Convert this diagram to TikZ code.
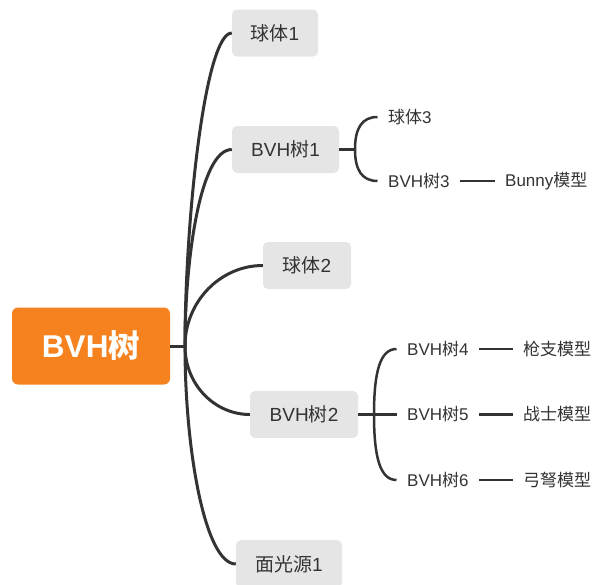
\documentclass[tikz,border=0pt]{standalone}
\usepackage{fontspec}
\setmainfont{Liberation Sans}
\newfontfamily\cjk{Noto Sans CJK SC}
\definecolor{orng}{RGB}{245,130,31}
\definecolor{boxg}{RGB}{229,229,229}
\definecolor{txt}{RGB}{51,51,51}
\definecolor{ln}{RGB}{51,51,51}
\begin{document}
\begin{tikzpicture}[x=1pt,y=-1pt,
  rootbox/.style={fill=orng, rounded corners=6pt, text=white, font=\fontsize{31.5}{31.5}\selectfont\bfseries, minimum width=158pt, minimum height=77pt, inner sep=0pt},
  box/.style={fill=boxg, rounded corners=5pt, text=txt, font=\fontsize{19}{19}\selectfont, minimum height=47pt, inner sep=0pt},
  leaf/.style={text=txt, font=\fontsize{17}{17}\selectfont, inner ysep=2pt, inner xsep=10.5pt, anchor=west},
  conn/.style={draw=ln, line width=3pt},
  sconn/.style={draw=ln, line width=2.5pt}]
\useasboundingbox (0,0) rectangle (592,584);

\node[rootbox] (r) at (91,346) {BVH{\cjk 树}};
\node[box, minimum width=86pt] (b1) at (275,33) {{\cjk 球体}1};
\node[box, minimum width=107pt] (b2) at (285.5,149.5) {BVH{\cjk 树}1};
\node[box, minimum width=88pt] (b3) at (307,265.5) {{\cjk 球体}2};
\node[box, minimum width=108pt] (b4) at (304,414.5) {BVH{\cjk 树}2};
\node[box, minimum width=106pt, minimum height=48pt] (b5) at (289,564) {{\cjk 面光源}1};

\coordinate (t) at (185,346);
\draw[conn] (r.east) -- (t);
\draw[conn] (t) .. controls (185,220) and (205,33) .. (b1.west);
\draw[conn] (t) .. controls (185,260) and (200,149.5) .. (b2.west);
\draw[conn] (t) .. controls (185,302) and (220,265.5) .. (b3.west);
\draw[conn] (t) .. controls (185,385) and (215,414.5) .. (b4.west);
\draw[conn] (t) .. controls (185,450) and (205,564) .. (b5.west);

% BVH tree 1 children
\node[leaf] (c1) at (377.5,117) {{\cjk 球体}3};
\node[leaf] (c2) at (377.5,181) {BVH{\cjk 树}3};
\node[leaf] (m1) at (494.5,181) {Bunny{\cjk 模型}};
\coordinate (s1) at (355,149.5);
\draw[sconn] (b2.east) -- (s1);
\draw[sconn] (s1) .. controls (355,128) and (362,117) .. (c1.west);
\draw[sconn] (s1) .. controls (355,170) and (362,181) .. (c2.west);
\draw[sconn] (c2.east) -- (m1.west);

% BVH tree 2 children
\node[leaf] (c4) at (396.5,349) {BVH{\cjk 树}4};
\node[leaf] (c5) at (396.5,414.5) {BVH{\cjk 树}5};
\node[leaf] (c6) at (396.5,480) {BVH{\cjk 树}6};
\node[leaf] (m4) at (512.5,349) {{\cjk 枪支模型}};
\node[leaf] (m5) at (512.5,414.5) {{\cjk 战士模型}};
\node[leaf] (m6) at (512.5,480) {{\cjk 弓弩模型}};
\coordinate (s2) at (374,414.5);
\draw[sconn] (b4.east) -- (c5.west);
\draw[sconn] (s2) .. controls (374,372) and (380,349) .. (c4.west);
\draw[sconn] (s2) .. controls (374,457) and (380,480) .. (c6.west);
\draw[sconn] (c4.east) -- (m4.west);
\draw[sconn] (c5.east) -- (m5.west);
\draw[sconn] (c6.east) -- (m6.west);
\end{tikzpicture}
\end{document}
